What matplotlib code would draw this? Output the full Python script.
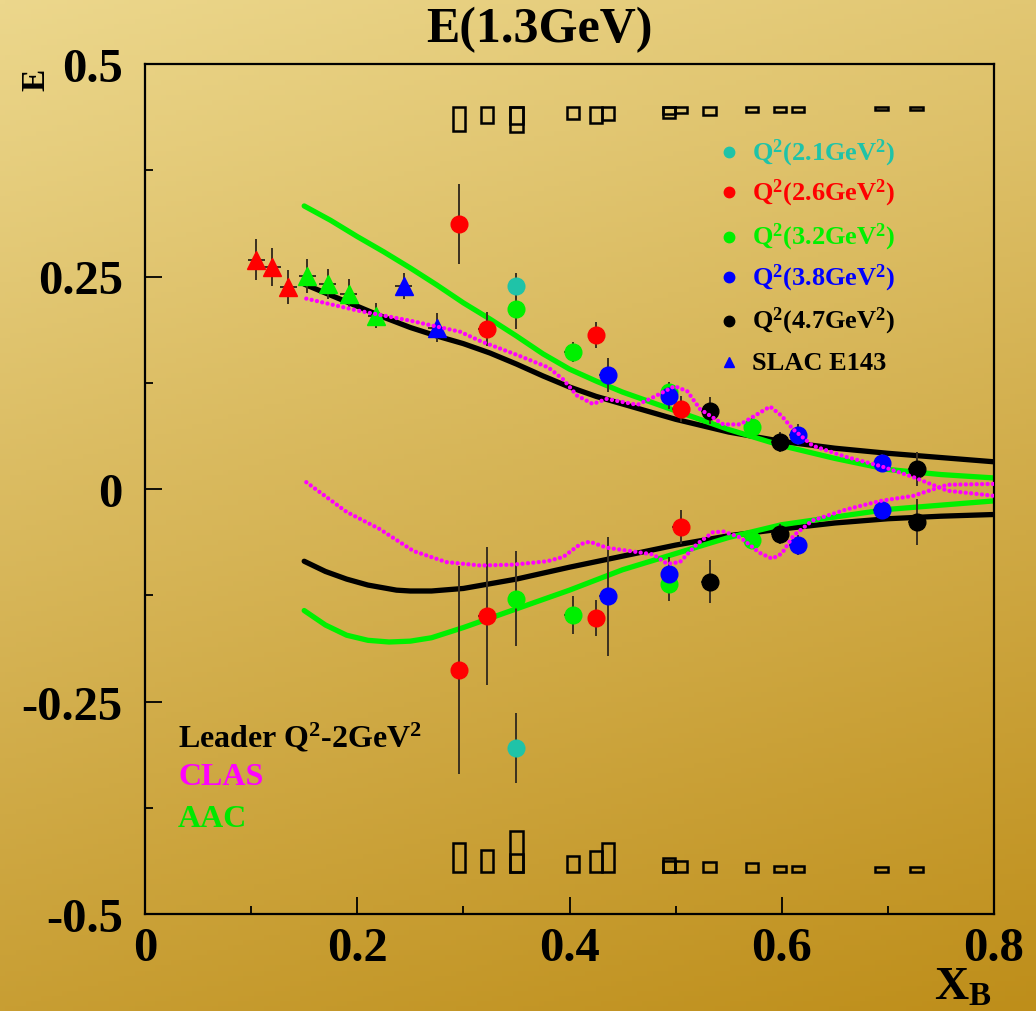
import numpy as np
import matplotlib
matplotlib.use('Agg')
import matplotlib.pyplot as plt
from matplotlib.patches import Rectangle

plt.rcParams['font.family'] = ['Liberation Serif', 'DejaVu Serif']
plt.rcParams['font.weight'] = 'bold'
plt.rcParams['mathtext.fontset'] = 'custom'
plt.rcParams['mathtext.rm'] = 'Liberation Serif:bold'
plt.rcParams['mathtext.it'] = 'Liberation Serif:bold'
plt.rcParams['mathtext.bf'] = 'Liberation Serif:bold'
plt.rcParams['mathtext.default'] = 'regular'

# SLAC E143 triangles
slac_red_x = [0.105, 0.120, 0.135]
slac_red_y = [0.270, 0.261, 0.238]
slac_red_e = [0.024, 0.022, 0.020]
slac_green_x = [0.153, 0.172, 0.192, 0.218]
slac_green_y = [0.251, 0.241, 0.229, 0.204]
slac_green_e = [0.020, 0.018, 0.018, 0.015]
slac_blue_x = [0.244, 0.275]
slac_blue_y = [0.239, 0.190]
slac_blue_e = [0.015, 0.017]

# Q2 bins, upper branch
cyan_x = [0.350]
cyan_up = [0.239]
cyan_up_e = [0.015]
red_x = [0.296, 0.322, 0.425, 0.505]
red_up = [0.312, 0.188, 0.181, 0.094]
red_up_e = [0.047, 0.020, 0.015, 0.015]
green_x = [0.350, 0.403, 0.494, 0.572]
green_up = [0.212, 0.161, 0.114, 0.073]
green_up_e = [0.024, 0.012, 0.012, 0.010]
blue_x = [0.436, 0.494, 0.615, 0.694]
blue_up = [0.134, 0.109, 0.064, 0.031]
blue_up_e = [0.020, 0.015, 0.012, 0.010]
black_x = [0.532, 0.598, 0.727]
black_up = [0.092, 0.055, 0.024]
black_up_e = [0.016, 0.012, 0.020]

# lower branch
cyan_lo = [-0.305]
cyan_lo_e = [0.041]
red_lo = [-0.213, -0.149, -0.152, -0.045]
red_lo_e = [0.122, 0.081, 0.021, 0.020]
green_lo = [-0.129, -0.148, -0.112, -0.060]
green_lo_e = [0.056, 0.022, 0.020, 0.010]
blue_lo = [-0.126, -0.100, -0.066, -0.025]
blue_lo_e = [0.070, 0.020, 0.012, 0.010]
black_lo = [-0.109, -0.053, -0.039]
black_lo_e = [0.025, 0.012, 0.027]

# systematic boxes
box_x = [0.296, 0.322, 0.350, 0.350, 0.403, 0.425, 0.436, 0.494, 0.494, 0.505,
         0.532, 0.572, 0.598, 0.615, 0.694, 0.727]
box_top_h = [0.029, 0.019, 0.021, 0.030, 0.015, 0.019, 0.016, 0.014, 0.009, 0.008,
             0.010, 0.007, 0.006, 0.006, 0.004, 0.004]
box_bot_h = [0.034, 0.025, 0.021, 0.048, 0.018, 0.024, 0.033, 0.016, 0.012, 0.012,
             0.011, 0.010, 0.006, 0.007, 0.005, 0.005]

# model curves
leader_up_x = [0.15, 0.175, 0.2, 0.225, 0.25, 0.275, 0.3, 0.325, 0.35, 0.375, 0.4, 0.425, 0.45,
               0.5, 0.55, 0.6, 0.65, 0.7, 0.75, 0.8]
leader_up_y = [0.241, 0.228, 0.215, 0.202, 0.19, 0.18, 0.171, 0.16, 0.147, 0.133, 0.12, 0.109,
               0.1, 0.082, 0.067, 0.056, 0.048, 0.042, 0.037, 0.032]
aac_up_x = [0.15, 0.175, 0.2, 0.225, 0.25, 0.275, 0.3, 0.325, 0.35, 0.375, 0.4, 0.425, 0.45,
            0.475, 0.5, 0.55, 0.6, 0.65, 0.7, 0.75, 0.8]
aac_up_y = [0.333, 0.316, 0.297, 0.279, 0.26, 0.24, 0.219, 0.2, 0.18, 0.159, 0.141, 0.127, 0.114,
            0.103, 0.092, 0.07, 0.051, 0.036, 0.023, 0.017, 0.013]
leader_lo_x = [0.15, 0.17, 0.19, 0.21, 0.237, 0.25, 0.27, 0.3, 0.35, 0.4, 0.45, 0.5, 0.55, 0.6,
               0.65, 0.7, 0.75, 0.8]
leader_lo_y = [-0.085, -0.097, -0.106, -0.113, -0.119, -0.12, -0.12, -0.117, -0.106, -0.092,
               -0.079, -0.066, -0.055, -0.047, -0.04, -0.035, -0.032, -0.03]
aac_lo_x = [0.15, 0.17, 0.19, 0.21, 0.23, 0.25, 0.27, 0.3, 0.35, 0.4, 0.45, 0.5, 0.55, 0.6, 0.65,
            0.7, 0.75, 0.8]
aac_lo_y = [-0.143, -0.16, -0.172, -0.178, -0.18, -0.179, -0.175, -0.163, -0.141, -0.119, -0.095,
            -0.076, -0.057, -0.042, -0.033, -0.024, -0.019, -0.014]
clas_up_x = [0.152, 0.2, 0.25, 0.297, 0.316, 0.35, 0.38, 0.394, 0.407, 0.422, 0.435, 0.464, 0.479,
             0.499, 0.511, 0.523, 0.545, 0.561, 0.573, 0.589, 0.6, 0.61, 0.629, 0.66, 0.693,
             0.724, 0.756, 0.8]
clas_up_y = [0.224, 0.21, 0.198, 0.185, 0.174, 0.158, 0.143, 0.129, 0.11, 0.1, 0.106, 0.099, 0.108,
             0.121, 0.115, 0.094, 0.076, 0.076, 0.085, 0.097, 0.086, 0.071, 0.051, 0.038, 0.027,
             0.014, -0.002, -0.008]
clas_lo_x = [0.152, 0.19, 0.221, 0.253, 0.284, 0.316, 0.347, 0.379, 0.394, 0.41, 0.419, 0.435,
             0.457, 0.479, 0.492, 0.504, 0.52, 0.535, 0.545, 0.561, 0.579, 0.591, 0.6, 0.611,
             0.629, 0.661, 0.693, 0.724, 0.756, 0.8]
clas_lo_y = [0.008, -0.027, -0.047, -0.073, -0.086, -0.09, -0.089, -0.085, -0.08, -0.065, -0.062,
             -0.069, -0.073, -0.077, -0.088, -0.086, -0.065, -0.051, -0.05, -0.057, -0.075, -0.082,
             -0.076, -0.055, -0.037, -0.024, -0.014, -0.008, 0.005, 0.006]

legend_labels = [r'Q$^{2}$(2.1GeV$^{2}$)', r'Q$^{2}$(2.6GeV$^{2}$)', r'Q$^{2}$(3.2GeV$^{2}$)',
                 r'Q$^{2}$(3.8GeV$^{2}$)', r'Q$^{2}$(4.7GeV$^{2}$)', 'SLAC E143']
model_labels = [r'Leader Q$^{2}$-2GeV$^{2}$', 'CLAS', 'AAC']

CYAN = '#1fc3a8'
RED = '#ff0000'
GREEN = '#00f000'
BLUE = '#0000ff'
BLACK = '#000000'
MAG = '#ff00ff'
ECOL = '#3a3020'

fig = plt.figure(figsize=(10.36, 10.12), dpi=100)

# gradient background
bg = fig.add_axes([0, 0, 1, 1], zorder=-10)
ny, nx = 200, 200
v, u = np.mgrid[0:1:ny*1j, 0:1:nx*1j]
t = np.clip(0.78*v + 0.22*u, 0, 1)[..., None]
c0 = np.array([236, 215, 140]) / 255.
c1 = np.array([190, 142, 26]) / 255.
bg.imshow(c0 + (c1 - c0)*t, aspect='auto', extent=[0, 1, 0, 1], origin='upper')
bg.axis('off')

ax = fig.add_axes([145/1036, 97/1012, 849/1036, 850/1012])
ax.set_facecolor('none')
ax.set_xlim(0, 0.8)
ax.set_ylim(-0.5, 0.5)

# model curves
ax.plot(leader_up_x, leader_up_y, color=BLACK, lw=3.8, solid_capstyle='round', solid_joinstyle='round', zorder=2)
ax.plot(leader_lo_x, leader_lo_y, color=BLACK, lw=3.8, solid_capstyle='round', solid_joinstyle='round', zorder=2)
ax.plot(aac_up_x, aac_up_y, color=GREEN, lw=3.8, solid_capstyle='round', solid_joinstyle='round', zorder=2.5)
ax.plot(aac_lo_x, aac_lo_y, color=GREEN, lw=3.8, solid_capstyle='round', solid_joinstyle='round', zorder=2.5)


def pts(x, y, e, col, mk, ms):
    ax.errorbar(x, y, yerr=e, xerr=0.008, fmt=mk, color=col, mec=col, ms=ms,
                ecolor=ECOL, elinewidth=1.4, capsize=0, zorder=3)


pts(slac_red_x, slac_red_y, slac_red_e, RED, '^', 13)
pts(slac_green_x, slac_green_y, slac_green_e, GREEN, '^', 13)
pts(slac_blue_x, slac_blue_y, slac_blue_e, BLUE, '^', 13)

pts(cyan_x, cyan_up, cyan_up_e, CYAN, 'o', 12)
pts(red_x, red_up, red_up_e, RED, 'o', 12)
pts(green_x, green_up, green_up_e, GREEN, 'o', 12)
pts(blue_x, blue_up, blue_up_e, BLUE, 'o', 12)
pts(black_x, black_up, black_up_e, BLACK, 'o', 12)
pts(cyan_x, cyan_lo, cyan_lo_e, CYAN, 'o', 12)
pts(red_x, red_lo, red_lo_e, RED, 'o', 12)
pts(green_x, green_lo, green_lo_e, GREEN, 'o', 12)
pts(blue_x, blue_lo, blue_lo_e, BLUE, 'o', 12)
pts(black_x, black_lo, black_lo_e, BLACK, 'o', 12)

ax.plot(clas_up_x, clas_up_y, color=MAG, lw=3.1, linestyle=(0, (0.01, 1.25)),
        dash_capstyle='round', zorder=4)
ax.plot(clas_lo_x, clas_lo_y, color=MAG, lw=3.1, linestyle=(0, (0.01, 1.25)),
        dash_capstyle='round', zorder=4)

# systematic error boxes
bw = 0.0115
for bx, ht, hb in zip(box_x, box_top_h, box_bot_h):
    ax.add_patch(Rectangle((bx - bw/2, 0.45 - ht), bw, ht, fill=False, ec='black', lw=1.8, zorder=3))
    ax.add_patch(Rectangle((bx - bw/2, -0.45), bw, hb, fill=False, ec='black', lw=1.8, zorder=3))

# axes styling
for s in ax.spines.values():
    s.set_linewidth(1.6)
ax.set_xticks([0, 0.2, 0.4, 0.6, 0.8])
ax.set_xticklabels(['0', '0.2', '0.4', '0.6', '0.8'])
ax.set_xticks([0.1, 0.3, 0.5, 0.7], minor=True)
ax.set_yticks([-0.5, -0.25, 0, 0.25, 0.5])
ax.set_yticklabels(['-0.5', '-0.25', '0', '0.25', '0.5'])
ax.set_yticks([-0.375, -0.125, 0.125, 0.375], minor=True)
ax.tick_params(which='both', direction='in', width=1.3, labelsize=35)
ax.tick_params(which='major', length=12)
ax.tick_params(which='minor', length=6)
ax.tick_params(axis='x', pad=9)
ax.tick_params(axis='y', pad=16)

# legend (top right)
leg_cols = [CYAN, RED, GREEN, BLUE, BLACK, BLACK]
leg_mk = ['o', 'o', 'o', 'o', 'o', '^']
leg_y = [0.896, 0.849, 0.797, 0.749, 0.698, 0.649]
for lab, col, mk, yy in zip(legend_labels, leg_cols, leg_mk, leg_y):
    mcol = BLUE if mk == '^' else col
    ax.plot([0.688], [yy], marker=mk, color=mcol, ms=7.5, transform=ax.transAxes,
            clip_on=False, zorder=5)
    ax.text(0.715, yy, lab, color=col, fontsize=19, fontweight='bold',
            transform=ax.transAxes, va='center', ha='left')

# legend (bottom left)
mod_cols = [BLACK, MAG, '#00e800']
mod_y = [0.209, 0.162, 0.112]
for lab, col, yy in zip(model_labels, mod_cols, mod_y):
    ax.text(0.039, yy, lab, color=col, fontsize=23, fontweight='bold',
            transform=ax.transAxes, va='center', ha='left')

fig.text(539/1036, 1 - 30/1012, 'E(1.3GeV)', fontsize=36, fontweight='bold',
         ha='center', va='center')
fig.text(934/1036, 12/1012, r'X$_{B}$', fontsize=34, fontweight='bold',
         ha='left', va='baseline')
fig.text(36/1036, 1 - 80/1012, 'E', fontsize=24, fontweight='bold', rotation=90,
         ha='center', va='center')

fig.savefig('out.png', dpi=100)
